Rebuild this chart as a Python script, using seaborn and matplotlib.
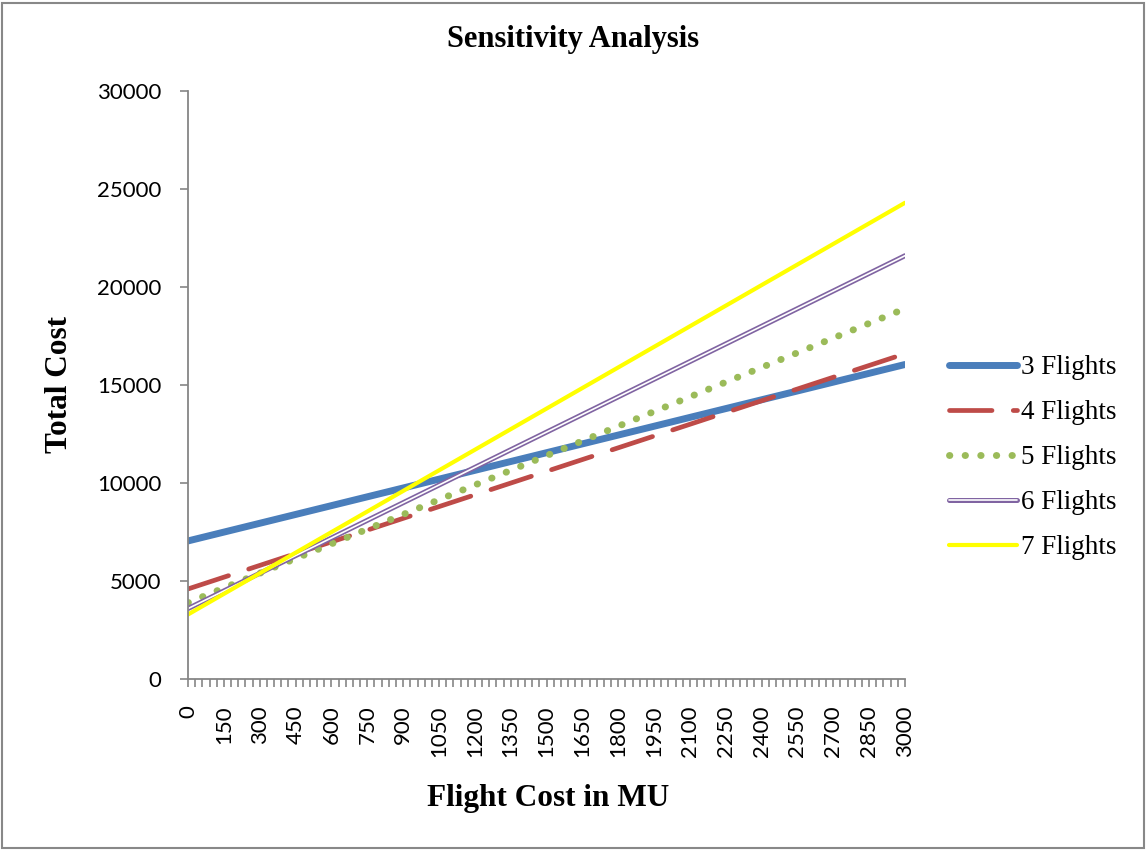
import numpy as np
import pandas as pd
import seaborn as sns
import matplotlib.pyplot as plt
import matplotlib.patheffects as pe
from matplotlib.patches import Rectangle
from matplotlib.ticker import MultipleLocator

# end points of each (straight) cost line
flight_cost = [0, 3000]
flights_3 = [7050, 16050]
flights_4 = [4600, 16600]
flights_5 = [3900, 18900]
flights_6 = [3600, 21600]
flights_7 = [3300, 24300]

labels = ["3 Flights", "4 Flights", "5 Flights", "6 Flights", "7 Flights"]
series = [flights_3, flights_4, flights_5, flights_6, flights_7]

df = pd.DataFrame({
    "Flight Cost": flight_cost * len(labels),
    "Total Cost": sum(series, []),
    "Series": np.repeat(labels, len(flight_cost)),
})

sns.set_style("white")
plt.rcParams["font.family"] = ["Lato", "DejaVu Sans"]
plt.rcParams["text.color"] = "black"

fig = plt.figure(figsize=(11.47, 8.51), dpi=100)
ax = fig.add_axes([0.164, 0.202, 0.625, 0.691])

styles = {
    "3 Flights": dict(color="#4A7EBB", lw=5.0, solid_capstyle="round"),
    "4 Flights": dict(color="#BE4B48", lw=3.4, dashes=(9, 4.5), dash_capstyle="round"),
    "5 Flights": dict(color="#9BBB59", lw=5.0, dashes=(0.05, 2.2), dash_capstyle="round"),
    "6 Flights": dict(color="white", lw=1.2,
                      path_effects=[pe.Stroke(linewidth=3.6, foreground="#8064A2"), pe.Normal()]),
    "7 Flights": dict(color="#FFFF00", lw=3.0),
}

for name in labels:
    sub = df[df["Series"] == name]
    st = dict(styles[name])
    dashes = st.pop("dashes", None)
    line = sns.lineplot(data=sub, x="Flight Cost", y="Total Cost", ax=ax, label=name, **st).lines[-1]
    if dashes is not None:
        line.set_dashes(dashes)

ax.set_xlim(0, 3000)
ax.set_ylim(0, 30000)
ax.xaxis.set_major_locator(MultipleLocator(150))
ax.xaxis.set_minor_locator(MultipleLocator(30))
ax.yaxis.set_major_locator(MultipleLocator(5000))

for s in ["top", "right"]:
    ax.spines[s].set_visible(False)
for s in ["left", "bottom"]:
    ax.spines[s].set_color("#868686")
    ax.spines[s].set_linewidth(1.3)

ax.tick_params(axis="x", which="both", direction="out", length=6, color="#868686",
               width=1.2, bottom=True, labelsize=16, labelrotation=90, pad=13,
               labelcolor="black")
ax.tick_params(axis="y", which="major", direction="out", length=6, color="#868686",
               width=1.2, left=True, labelsize=16, pad=13, labelcolor="black")
ax.set_xlabel("")
ax.set_ylabel("")
ax.get_legend().remove()

serif = ["Liberation Serif", "DejaVu Serif"]
fig.text(0.5, 0.953, "Sensitivity Analysis", ha="center", va="center",
         fontsize=22, fontweight="bold", family=serif)
fig.text(0.052, 0.548, "Total Cost", ha="center", va="center", rotation=90,
         fontsize=22.5, fontweight="bold", family=serif)
fig.text(0.478, 0.062, "Flight Cost in MU", ha="center", va="center",
         fontsize=22.5, fontweight="bold", family=serif)

handles, labs = ax.get_legend_handles_labels()
fig.legend(handles, labs, loc="center left", bbox_to_anchor=(0.806, 0.462),
           frameon=False, prop={"family": serif, "size": 19.5},
           handlelength=2.5, handletextpad=0.15, labelspacing=0.74)

fig.add_artist(Rectangle((0.002, 0.003), 0.995, 0.994, transform=fig.transFigure,
                         fill=False, edgecolor="#888888", lw=1.5))

fig.savefig("out.png", dpi=100)
